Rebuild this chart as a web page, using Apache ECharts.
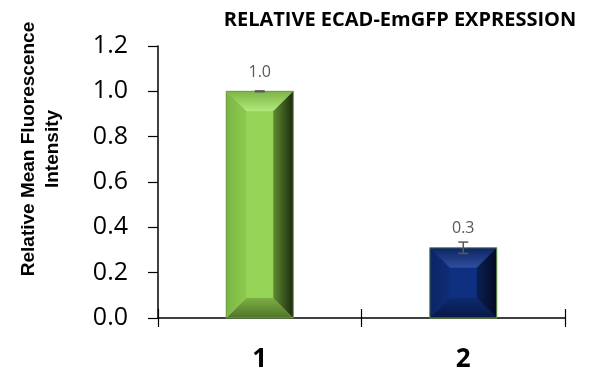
<!DOCTYPE html>
<html><head><meta charset="utf-8">
<script src="https://cdn.jsdelivr.net/npm/echarts@6/dist/echarts.min.js"></script>
<style>html,body{margin:0;padding:0;background:#fff}#c{width:604px;height:373px}</style>
</head><body><div id="c"></div>
<script>
var categories = ['1', '2'];
var values = [1.0, 0.31];
var errors = [0.002, 0.025];
var labels = ['1.0', '0.3'];
var yTitle = 'Relative Mean Fluorescence\nIntensity';
var chartTitle = 'RELATIVE ECAD-EmGFP EXPRESSION';

function lg(x, y, x2, y2, a, b) {
  return {type:'linear', x:x, y:y, x2:x2, y2:y2, colorStops:[{offset:0,color:a},{offset:1,color:b}]};
}
var palettes = [
  {face:'#95d456', top:['#7fb446','#b2ea7c'], left:['#7bb544','#8ccb4e'], right:['#5f8a32','#1c2a0c'], bottom:['#7cae45','#4f7428']},
  {face:'#0f2f80', top:['#0c2462','#2f4f9e'], left:['#0b2564','#0f2c78'], right:['#0a1f58','#040b20'], bottom:['#0d2a70','#071845']}
];

var chart = echarts.init(document.getElementById('c'));
chart.setOption({
  animation:false,
  title:{text:chartTitle,left:395,top:5,textAlign:'center',
    textStyle:{fontFamily:'Open Sans',fontWeight:'bold',fontSize:20,color:'#000'}},
  graphic:[{type:'text',x:41,y:149,rotation:Math.PI/2,
    style:{text:yTitle,fontFamily:'Liberation Sans',fontWeight:'bold',fontSize:19,lineHeight:24,
      fill:'#000',align:'center',verticalAlign:'middle'}}],
  grid:{left:158,right:39,top:46,bottom:54},
  xAxis:[{type:'category',data:categories,
    axisLine:{lineStyle:{color:'#000',width:1.5}},
    axisTick:{show:true,length:9,lineStyle:{color:'#000',width:1.2}},
    axisLabel:{margin:29,fontFamily:'Open Sans',fontWeight:'bold',fontSize:26,color:'#000'}},
    {type:'category',data:categories,position:'bottom',
    axisLine:{show:false},axisTick:{show:true,inside:true,length:9,lineStyle:{color:'#000',width:1.2}},
    axisLabel:{show:false}}],
  yAxis:{type:'value',min:0,max:1.2,interval:0.2,
    axisLine:{show:true,lineStyle:{color:'#000',width:1.5}},
    axisTick:{show:true,length:10,lineStyle:{color:'#000',width:1.2}},
    splitLine:{show:false},
    axisLabel:{margin:30,fontFamily:'Open Sans',fontSize:25,color:'#000',
      formatter:function(v){return v.toFixed(1);}}},
  series:[{type:'custom',
    data:values.map(function(v,i){return [i,v];}),
    renderItem:function(params,api){
      var i=params.dataIndex, p=palettes[i];
      var top=api.coord([api.value(0),api.value(1)]), base=api.coord([api.value(0),0]);
      var w=67, x0=top[0]-w/2, x1=top[0]+w/2, y0=top[1], y1=base[1];
      var h=y1-y0, b=Math.min(20, w/3.2, h/3.2);
      function poly(pts, fill){return {type:'polygon',shape:{points:pts},style:{fill:fill}};}
      return {type:'group',children:[
        {type:'rect',shape:{x:x0,y:y0,width:w,height:h},style:{fill:p.face}},
        poly([[x0,y0],[x1,y0],[x1-b,y0+b],[x0+b,y0+b]], lg(0,0,0,1,p.top[0],p.top[1])),
        poly([[x0,y1],[x1,y1],[x1-b,y1-b],[x0+b,y1-b]], lg(0,0,0,1,p.bottom[0],p.bottom[1])),
        poly([[x0,y0],[x0+b,y0+b],[x0+b,y1-b],[x0,y1]], lg(0,0,1,0,p.left[0],p.left[1])),
        poly([[x1,y0],[x1-b,y0+b],[x1-b,y1-b],[x1,y1]], lg(0,0,1,0,p.right[0],p.right[1])),
        {type:'rect',shape:{x:x0,y:y0,width:w,height:h},style:{fill:'none',stroke:'#6a9a40',lineWidth:1}},
        {type:'text',style:{text:labels[i],x:top[0],y:y0-11,align:'center',verticalAlign:'bottom',
          fontFamily:'Open Sans',fontSize:16,fill:'#595959'}}
      ]};
    }},
   {type:'custom',
    data:values.map(function(v,i){return [i,v,errors[i]];}),
    renderItem:function(params,api){
      var x=api.value(0),v=api.value(1),e=api.value(2);
      var hi=api.coord([x,v+e]),lo=api.coord([x,v-e]);
      var w=5;
      var st={stroke:'#595959',lineWidth:1.5};
      return {type:'group',children:[
        {type:'line',shape:{x1:hi[0],y1:hi[1],x2:lo[0],y2:lo[1]},style:st},
        {type:'line',shape:{x1:hi[0]-w,y1:hi[1],x2:hi[0]+w,y2:hi[1]},style:st},
        {type:'line',shape:{x1:lo[0]-w,y1:lo[1],x2:lo[0]+w,y2:lo[1]},style:st}]};
    },z:5}]
});
</script></body></html>
